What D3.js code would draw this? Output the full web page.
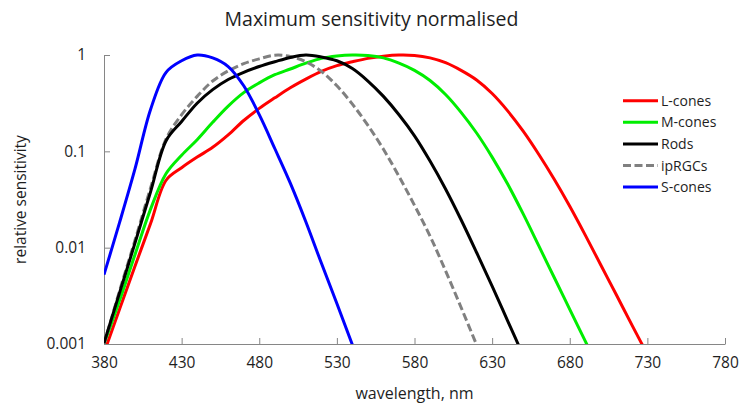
<!DOCTYPE html>
<html>
<head>
<meta charset="utf-8">
<script src="https://cdn.jsdelivr.net/npm/d3@7"></script>
<style>
  html, body { margin: 0; padding: 0; background: #fff; }
  svg { display: block; font-family: "Open Sans", "DejaVu Sans", sans-serif; }
</style>
</head>
<body>
<svg id="chart" width="743" height="410"></svg>
<script>
// ---- data ----
const title = "Maximum sensitivity normalised";
const xLabel = "wavelength, nm";
const yLabel = "relative sensitivity";
const xTicks = [380, 430, 480, 530, 580, 630, 680, 730, 780];
const yTicks = [0.001, 0.01, 0.1, 1];
const yTickLabels = ["0.001", "0.01", "0.1", "1"];

const wavelengths = [380,390,400,410,420,430,440,450,460,470,480,490,500,510,520,530,540,550,
                     560,570,580,590,600,610,620,630,640,650,660,670,680,690,700,710,720,730];

const lCones = [0.00081,0.00229,0.00646,0.0178,0.0501,0.0676,0.0871,0.110,0.148,0.209,0.279,0.359,
                0.457,0.562,0.676,0.776,0.851,0.923,0.973,1.0,0.99,0.933,0.832,0.692,0.550,0.398,
                0.263,0.162,0.0933,0.0513,0.0269,0.0135,0.00661,0.00324,0.00158,0.00078];
const mCones = [0.0010,0.00282,0.00851,0.0251,0.0589,0.0912,0.132,0.200,0.295,0.407,0.513,0.624,
                0.716,0.822,0.923,0.977,1.0,0.989,0.933,0.822,0.692,0.543,0.389,0.254,0.155,0.0871,
                0.0457,0.0224,0.0105,0.0049,0.00229,0.00107,0.0005];
const rods   = [0.00102,0.00339,0.0112,0.0380,0.129,0.204,0.316,0.437,0.556,0.661,0.759,0.851,
                0.944,1.0,0.955,0.871,0.724,0.537,0.372,0.240,0.145,0.0794,0.0407,0.0195,0.00891,
                0.00398,0.00174,0.00076];
const ipRGCs = [0.0010,0.00355,0.0120,0.0417,0.135,0.240,0.372,0.537,0.684,0.813,0.912,0.995,
                0.966,0.851,0.676,0.479,0.309,0.186,0.105,0.055,0.0275,0.0132,0.00575,0.0024,
                0.00098,0.0004];
const sCones = [0.00525,0.0182,0.0661,0.272,0.661,0.871,1.0,0.933,0.759,0.479,0.240,0.107,0.0468,
                0.0186,0.00692,0.00263,0.00098,0.00036];

const seriesNames = ["L-cones", "M-cones", "Rods", "ipRGCs", "S-cones"];
const seriesValues = [lCones, mCones, rods, ipRGCs, sCones];
const seriesColors = ["#ff0000", "#00ee00", "#000000", "#808080", "#0000ff"];
const seriesDash = [null, null, null, "8,3.5", null];

// ---- layout ----
const svg = d3.select("#chart");
const plot = { left: 104, right: 725, top: 55, bottom: 344 };
const axisColor = "#868686";
const textColor = "#1e1e1e";

const x = d3.scaleLinear().domain([380, 780]).range([plot.left, plot.right]);
const y = d3.scaleLog().domain([0.001, 1]).range([plot.bottom, plot.top]);

// title
svg.append("text").attr("x", 371.5).attr("y", 26)
  .attr("text-anchor", "middle").attr("font-size", 19.5).attr("fill", textColor)
  .text(title);

// clip
svg.append("defs").append("clipPath").attr("id", "clip")
  .append("rect").attr("x", plot.left).attr("y", 0)
  .attr("width", plot.right - plot.left).attr("height", plot.bottom);

// x axis
const xAxis = svg.append("g").attr("transform", `translate(0,${plot.bottom})`)
  .call(d3.axisBottom(x).tickValues(xTicks).tickFormat(d3.format("d")).tickSizeInner(-6).tickSizeOuter(0).tickPadding(13));
xAxis.select(".domain").attr("stroke", axisColor);
xAxis.selectAll(".tick line").attr("stroke", axisColor);
xAxis.selectAll(".tick text").attr("font-size", 15.5).attr("fill", textColor)
  .attr("font-family", '"Open Sans", sans-serif');

// y axis
const yAxis = svg.append("g").attr("transform", `translate(${plot.left},0)`)
  .call(d3.axisLeft(y).tickValues(yTicks).tickFormat((d, i) => yTickLabels[i]).tickSizeInner(-6).tickSizeOuter(0).tickPadding(18));
yAxis.select(".domain").attr("stroke", axisColor);
yAxis.selectAll(".tick line").attr("stroke", axisColor);
yAxis.selectAll(".tick text").attr("font-size", 15.5).attr("fill", textColor)
  .attr("font-family", '"Open Sans", sans-serif');

// axis labels
svg.append("text").attr("x", (plot.left + plot.right) / 2).attr("y", 399)
  .attr("text-anchor", "middle").attr("font-size", 16).attr("fill", textColor)
  .text(xLabel);
svg.append("text").attr("transform", `translate(26,${(plot.top + plot.bottom) / 2}) rotate(-90)`)
  .attr("text-anchor", "middle").attr("font-size", 15.5).attr("fill", textColor)
  .text(yLabel);

// lines
const line = d3.line()
  .x(d => x(d[0])).y(d => y(d[1]))
  .curve(d3.curveCatmullRom.alpha(0.5));

const linesG = svg.append("g").attr("clip-path", "url(#clip)");
// draw order: back to front
const order = [0, 1, 3, 2, 4];
order.forEach(i => {
  const pts = seriesValues[i].map((v, k) => [wavelengths[k], v]);
  linesG.append("path").datum(pts)
    .attr("d", line)
    .attr("fill", "none")
    .attr("stroke", seriesColors[i])
    .attr("stroke-width", 3)
    .attr("stroke-linejoin", "round")
    .attr("stroke-dasharray", seriesDash[i]);
});

// legend
const legend = svg.append("g");
seriesNames.forEach((name, i) => {
  const cy = 100.7 + i * 21.6;
  legend.append("line").attr("x1", 623).attr("x2", 658).attr("y1", cy).attr("y2", cy)
    .attr("stroke", seriesColors[i]).attr("stroke-width", 3)
    .attr("stroke-dasharray", seriesDash[i]);
  legend.append("text").attr("x", 661).attr("y", cy + 5)
    .attr("font-size", 14).attr("fill", textColor).text(name);
});
</script>
</body>
</html>
